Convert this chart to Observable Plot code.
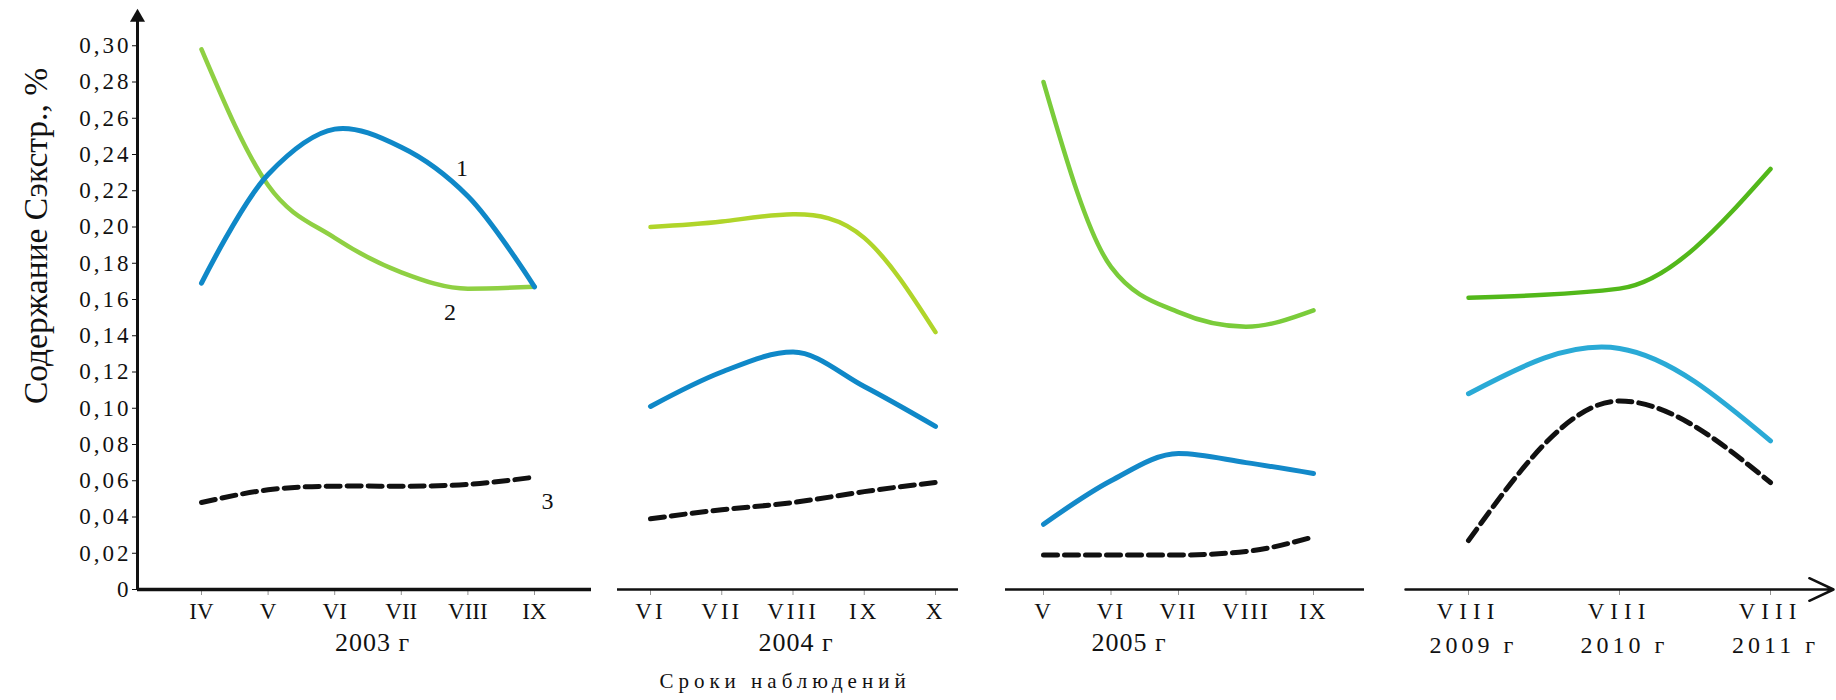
<!DOCTYPE html>
<html><head><meta charset="utf-8">
<script src="https://cdn.jsdelivr.net/npm/d3@7"></script>
<script src="https://cdn.jsdelivr.net/npm/@observablehq/plot@0.6"></script>
<style>
body{margin:0;background:#fff}
#wrap{position:relative;width:1836px;height:700px;background:#fff;overflow:hidden}
#wrap svg{position:absolute;left:0;top:0}
#ytitle{position:absolute;left:36px;top:236px;transform:translate(-50%,-50%) rotate(-90deg);
  white-space:nowrap;font-family:"Liberation Serif","Times New Roman",serif;font-size:33.5px;color:#111;line-height:1}
</style>
</head><body><div id="wrap"><div id="ytitle"></div></div>
<script>
// ---------- data ----------
const yTicks = [0,0.02,0.04,0.06,0.08,0.10,0.12,0.14,0.16,0.18,0.20,0.22,0.24,0.26,0.28,0.30];
const yAxisTop = 0.32;
const yTitle = "Содержание Сэкстр., %";
const xTitle = "Сроки наблюдений";

const months2003 = [4,5,6,7,8,9];
const labels2003 = ["IV","V","VI","VII","VIII","IX"];
const s1_2003 = [0.169,0.229,0.254,0.244,0.217,0.167];
const s2_2003 = [0.298,0.223,0.194,0.175,0.166,0.167];
const s3_2003 = [0.048,0.055,0.057,0.057,0.058,0.062];

const months2004 = [6,7,8,9,10];
const labels2004 = ["VI","VII","VIII","IX","X"];
const s1_2004 = [0.101,0.120,0.131,0.112,0.090];
const s2_2004 = [0.200,0.203,0.207,0.194,0.142];
const s3_2004 = [0.039,0.044,0.048,0.054,0.059];

const months2005 = [5,6,7,8,9];
const labels2005 = ["V","VI","VII","VIII","IX"];
const s1_2005 = [0.036,0.060,0.075,0.070,0.064];
const s2_2005 = [0.280,0.178,0.153,0.145,0.154];
const s3_2005 = [0.019,0.019,0.019,0.021,0.029];

const years = [2009,2010,2011];
const labelsYears = ["VIII","VIII","VIII"];
const yearNames = ["2009 г","2010 г","2011 г"];
const s1_2009 = [0.108,0.133,0.082];
const s2_2009 = [0.161,0.166,0.232];
const s3_2009 = [0.027,0.104,0.059];

// ---------- layout ----------
const W = 1836, H = 700, TOP = 9, BASE = 589;
const FONT = "Liberation Serif, Times New Roman, serif";
const rows = (xs, vs) => xs.map((x, i) => ({x, y: vs[i]}));
const yFmt = d => d === 0 ? "0" : d.toFixed(2).replace(".", ",");

document.getElementById("ytitle").textContent = yTitle;

const panels = [
  {left:137, right:591, t0:201, t1:534, xs:months2003, labels:labels2003,
   s:[s1_2003,s2_2003,s3_2003], colors:["#0f88c8","#8fd043"], year:"2003 г", yearDx:8,
   curves:["catmull-rom","monotone-x","natural"], yaxis:true, baseW:3.5, tickLS:"0px", yearLS:"1px"},
  {left:617, right:958, t0:650, t1:935, xs:months2004, labels:labels2004,
   s:[s1_2004,s2_2004,s3_2004], colors:["#0f88c8","#b0d52a"], year:"2004 г", yearDx:8,
   curves:["monotone-x","natural","natural"], baseW:2.5, tickLS:"3px", yearLS:"1px", xTitle:true},
  {left:1005, right:1364, t0:1043, t1:1313, xs:months2005, labels:labels2005,
   s:[s1_2005,s2_2005,s3_2005], colors:["#1389c9","#7acc3a"], year:"2005 г", yearDx:-56,
   curves:["monotone-x","monotone-x","monotone-x"], baseW:2.5, tickLS:"2px", yearLS:"1px"},
  {left:1405, right:1833, t0:1468, t1:1770, xs:years, labels:labelsYears,
   s:[s1_2009,s2_2009,s3_2009], colors:["#2aaad6","#52b81a"], years:true,
   curves:["natural","monotone-x","monotone-x"], baseW:2.5, tickLS:"6px", yearLS:"4px", arrow:true}
];

const wrap = document.getElementById("wrap");

panels.forEach((p) => {
  const n = p.xs.length;
  const step = (p.t1 - p.t0) / (n - 1) / (p.xs[1] - p.xs[0]);
  const domain = [p.xs[0] - (p.t0 - p.left) / step, p.xs[n-1] + (p.right - p.t1) / step];
  const marks = [];
  // baseline
  if (p.arrow) {
    marks.push(Plot.arrow([0], {x1: () => domain[0], x2: () => domain[1], y1: 0, y2: 0,
      stroke: "#111", strokeWidth: p.baseW, headLength: 16, headAngle: 50}));
  } else {
    marks.push(Plot.ruleY([0], {stroke: "#111", strokeWidth: p.baseW}));
  }
  // x axis
  marks.push(Plot.axisX({ticks: p.xs, tickFormat: d => p.labels[p.xs.indexOf(d)],
    tickSize: 6, tickPadding: 7, fontSize: 23, label: null, strokeOpacity: 0.45}));
  // y axis (first panel)
  if (p.yaxis) {
    marks.push(Plot.ruleX([0], {x: () => domain[0], y1: 0, y2: yAxisTop - 0.006, stroke: "#111", strokeWidth: 3}));
    marks.push(Plot.dot([0], {x: () => domain[0], y: () => yAxisTop, dy: 8, symbol: "triangle", r: 5.6, fill: "#111"}));
    marks.push(Plot.axisY({ticks: yTicks, tickFormat: yFmt, tickSize: 5, tickPadding: 1, fontSize: 23, label: null}));
  }
  // series
  const d1 = rows(p.xs, p.s[0]), d2 = rows(p.xs, p.s[1]), d3r = rows(p.xs, p.s[2]);
  marks.push(Plot.line(d3r, {x: "x", y: "y", stroke: "#111", strokeWidth: 5, strokeDasharray: "14,7", curve: p.curves[2]}));
  marks.push(Plot.line(d2, {x: "x", y: "y", stroke: p.colors[1], strokeWidth: 4.5, curve: p.curves[1]}));
  marks.push(Plot.line(d1, {x: "x", y: "y", stroke: p.colors[0], strokeWidth: 5, curve: p.curves[0]}));
  // series numbers (first panel)
  if (p.yaxis) {
    marks.push(Plot.text([d1[4]], {x: "x", y: "y", text: () => "1", dx: -6, dy: -28, fontSize: 24}));
    marks.push(Plot.text([d2[4]], {x: "x", y: "y", text: () => "2", dx: -18, dy: 24, fontSize: 24}));
    marks.push(Plot.text([d3r[5]], {x: "x", y: "y", text: () => "3", dx: 13, dy: 24, fontSize: 24}));
  }
  // year labels
  if (p.years) {
    marks.push(Plot.text(p.xs, {x: d => d, text: (d, i) => yearNames[i], frameAnchor: "bottom", lineAnchor: "middle", dy: 56, dx: 5, fontSize: 24}));
  } else {
    marks.push(Plot.text([p.year], {text: d => d, frameAnchor: "bottom", lineAnchor: "middle", dy: 53, dx: p.yearDx, fontSize: 26}));
  }
  if (p.xTitle) {
    marks.push(Plot.text([xTitle], {text: d => d, frameAnchor: "bottom", lineAnchor: "middle", dy: 92, dx: -3, fontSize: 21}));
  }
  const svg = Plot.plot({
    width: W, height: H,
    marginLeft: p.left, marginRight: W - p.right, marginTop: TOP, marginBottom: H - BASE,
    style: {background: "transparent", fontFamily: FONT, color: "#111"},
    x: {type: "linear", domain, axis: null},
    y: {domain: [0, yAxisTop], axis: null},
    marks
  });
  const s = d3.select(svg);
  s.selectAll('[aria-label="x-axis tick label"] text').style("letter-spacing", p.tickLS);
  s.selectAll('[aria-label="y-axis tick label"] text').style("letter-spacing", "3px");
  s.selectAll("text").filter(function(){ return this.textContent === xTitle; }).style("letter-spacing", "5px");
  s.selectAll("text").filter(function(){ return /г$/.test(this.textContent); }).style("letter-spacing", p.yearLS);
  wrap.appendChild(svg);
});
</script>
</body></html>
